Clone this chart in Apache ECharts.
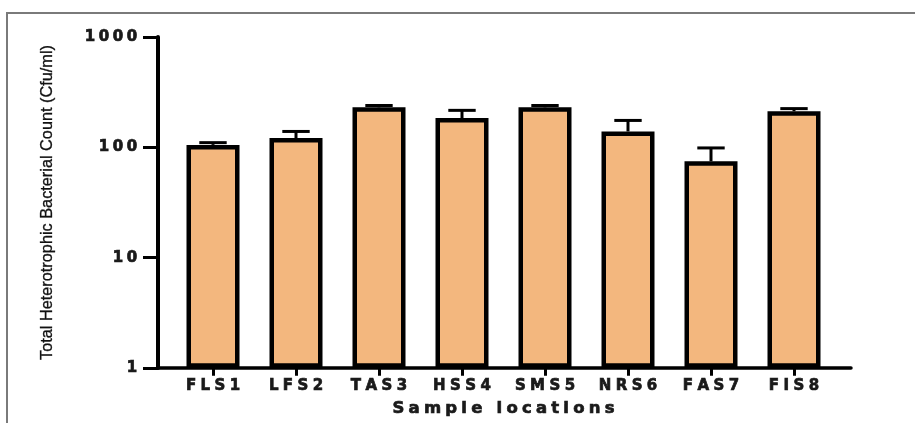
<!DOCTYPE html>
<html>
<head>
<meta charset="utf-8">
<script src="https://cdn.jsdelivr.net/npm/echarts@6/dist/echarts.min.js"></script>
<style>
  html, body { margin: 0; padding: 0; background: #fff; }
  #wrap { position: relative; width: 915px; height: 423px; overflow: hidden; }
  #chart { width: 915px; height: 423px; }
  #frame { position: absolute; left: 6px; top: 12px; right: -10px; bottom: -10px;
           border-top: 2px solid #7a7a7a; border-left: 2px solid #7a7a7a; pointer-events: none; }
</style>
</head>
<body>
<div id="wrap">
  <div id="chart"></div>
  <div id="frame"></div>
</div>
<script>
// ---- data ----
const categories = ['FLS1', 'LFS2', 'TAS3', 'HSS4', 'SMS5', 'NRS6', 'FAS7', 'FIS8'];
const means      = [105, 121, 230, 184, 230, 139, 74.5, 212];
const errors     = [5, 18, 9, 32, 9, 36, 24, 12];
const yTicks     = [1, 10, 100, 1000];
const xTitle = 'Sample locations';
const yTitle = 'Total Heterotrophic Bacterial Count (Cfu/ml)';

// wide-looking text: every character as its own rich segment with padding
function spaced(str, key) {
  return str.split('').map(c => '{' + key + '|' + (c === ' ' ? '\u00a0' : c) + '}').join('');
}

const chart = echarts.init(document.getElementById('chart'), null, { renderer: 'canvas' });

const barFill = '#F3B77E';
const FONT = 'DejaVu Sans';
const heavy = { textBorderColor: '#1a1a1a', textBorderWidth: 0.7 };

const option = {
  animation: false,
  backgroundColor: '#ffffff',
  grid: [
    { left: 158, right: 64, top: 37, bottom: 55 },
    { left: 171.5, width: 664, top: 37, bottom: 55 }
  ],
  xAxis: [
    {
      gridIndex: 0, type: 'value', min: 0, max: 1,
      axisLine: { show: true, lineStyle: { color: '#000', width: 3.5 } },
      axisTick: { show: false }, axisLabel: { show: false }, splitLine: { show: false }
    },
    {
      gridIndex: 1, type: 'category', data: categories, boundaryGap: true,
      axisLine: { show: false },
      axisTick: { show: true, alignWithLabel: true, interval: 0, length: 8, lineStyle: { color: '#000', width: 3 } },
      axisLabel: {
        margin: 11,
        interval: 0,
        formatter: v => spaced(v, 'c'),
        rich: { c: Object.assign({ fontFamily: FONT, fontWeight: 'bold', fontSize: 15, color: '#1a1a1a', padding: [0, 2.2] }, heavy) }
      },
      splitLine: { show: false },
      name: spaced(xTitle, 'n'),
      nameLocation: 'middle',
      nameGap: 33,
      nameTextStyle: {
        rich: { n: Object.assign({ fontFamily: FONT, fontWeight: 'bold', fontSize: 16.5, color: '#1a1a1a', padding: [0, 2.1] }, heavy) }
      }
    }
  ],
  yAxis: [
    {
      gridIndex: 0, type: 'log', logBase: 10, min: 1, max: 1000,
      axisLine: { show: true, lineStyle: { color: '#000', width: 4 } },
      axisTick: { show: true, length: 15, lineStyle: { color: '#000', width: 3 } },
      minorTick: { show: false },
      splitLine: { show: false },
      axisLabel: {
        margin: 19,
        formatter: v => yTicks.indexOf(Math.round(v)) >= 0 ? spaced(String(Math.round(v)), 't') : '',
        rich: { t: Object.assign({ fontFamily: FONT, fontWeight: 'bold', fontSize: 15, color: '#1a1a1a', padding: [0, 1.8] }, heavy) }
      },
      name: yTitle,
      nameLocation: 'middle',
      nameGap: 102,
      nameTextStyle: { fontFamily: 'Liberation Sans', fontSize: 16.3, color: '#111', textBorderColor: '#111', textBorderWidth: 0.3 }
    },
    {
      gridIndex: 1, type: 'log', logBase: 10, min: 1, max: 1000, show: false
    }
  ],
  series: [
    {
      type: 'bar', xAxisIndex: 1, yAxisIndex: 1,
      data: means,
      barWidth: 53,
      itemStyle: { color: barFill, borderColor: '#000', borderWidth: 4.5 },
      z: 2
    },
    {
      type: 'custom', xAxisIndex: 1, yAxisIndex: 1,
      data: means.map((m, i) => [i, m, errors[i]]),
      z: 3,
      renderItem: function (params, api) {
        const i = api.value(0), m = api.value(1), e = api.value(2);
        const base = api.coord([i, m]);
        const top = api.coord([i, m + e]);
        const half = api.size([1, 0])[0] * 0.165;
        return {
          type: 'group',
          children: [
            { type: 'line', shape: { x1: top[0], y1: base[1], x2: top[0], y2: top[1] },
              style: { stroke: '#000', lineWidth: 3 } },
            { type: 'line', shape: { x1: top[0] - half, y1: top[1], x2: top[0] + half, y2: top[1] },
              style: { stroke: '#000', lineWidth: 3 } }
          ]
        };
      }
    }
  ]
};
chart.setOption(option);
</script>
</body>
</html>
